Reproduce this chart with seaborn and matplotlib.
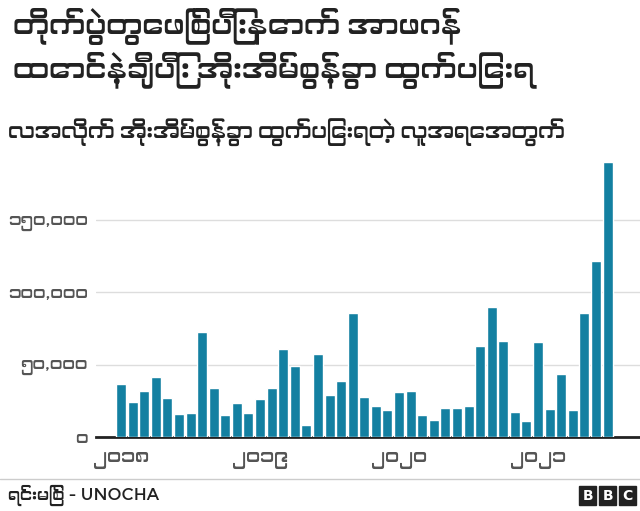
import matplotlib
matplotlib.use("Agg")
import matplotlib.pyplot as plt
from matplotlib import font_manager as fm
import seaborn as sns
import pandas as pd

months = list(range(43))
values = [36900, 24200, 31600, 41200, 27200, 16100, 16800, 72600, 33900, 15400, 23500, 16600,
          26300, 33600, 60800, 48800, 8100, 57100, 29000, 38900, 85700, 27400, 21400, 18700,
          31100, 31800, 15400, 11800, 20000, 20000, 21700, 62900, 89900, 66100, 17300, 10800,
          65400, 19600, 43800, 18400, 85500, 121400, 190300]
year_ticks = [0, 12, 24, 36]
year_labels = ["၂၀၁၈", "၂၀၁၉", "၂၀၂၀", "၂၀၂၁"]
y_ticks = [0, 50000, 100000, 150000]
y_labels = ["၀", "၅၀,၀၀၀", "၁၀၀,၀၀၀", "၁၅၀,၀၀၀"]
title = "တိုက်ပွဲတွေဖြစ်ပြီးနောက် အာဖဂန်\nထောင်နဲ့ချီပြီး အိုးအိမ်စွန့်ခွာ ထွက်ပြေးရ"
subtitle = "လအလိုက် အိုးအိမ်စွန့်ခွာ ထွက်ပြေးရတဲ့ လူအရေအတွက်"
source = "ရင်းမြစ် - UNOCHA"

sns.set_style("white")
names = sorted({f.name for f in fm.fontManager.ttflist
                if "myanmar" in f.name.lower() or "padauk" in f.name.lower() or "myanmar" in f.fname.lower()})
fams = names + ["DejaVu Sans"]
plt.rcParams["font.family"] = fams

df = pd.DataFrame({"m": months, "v": values})
fig = plt.figure(figsize=(6.4, 5.11), dpi=100)
ax = fig.add_axes([0.15, 0.145, 0.85, 0.552])
sns.barplot(data=df, x="m", y="v", color="#1380A1", saturation=1, width=0.86, ax=ax, zorder=3)
ax.set_xlim(-2.16, 44.8)
ax.set_ylim(0, 195000)
ax.set_yticks(y_ticks)
ax.set_yticklabels(y_labels, fontsize=12.5, color="#555555", fontweight="light")
ax.set_xticks(year_ticks)
ax.set_xticklabels(year_labels, fontsize=14, color="#555555", fontweight="light")
ax.grid(axis="y", color="#dddddd", lw=1, zorder=0)
for s in ["top", "right", "left"]:
    ax.spines[s].set_visible(False)
ax.spines["bottom"].set_color("#222222")
ax.spines["bottom"].set_linewidth(2)
ax.tick_params(axis="x", length=6, color="#333333", width=1, pad=4)
ax.tick_params(axis="y", length=0, pad=6)
ax.set_xlabel("")
ax.set_ylabel("")

fig.text(0.02, 0.985, title, fontsize=21, va="top", ha="left", color="#222222", linespacing=1.3)
fig.text(0.012, 0.74, subtitle, fontsize=15.5, va="center", ha="left", color="#222222")
fig.add_artist(plt.Line2D([0, 1], [0.062, 0.062], color="#cccccc", lw=1))
fig.text(0.012, 0.03, source, fontsize=12, va="center", ha="left", color="#222222")
for i, ch in enumerate("BBC"):
    x = 0.905 + i * 0.031
    fig.add_artist(plt.Rectangle((x, 0.012), 0.027, 0.036, color="#222222", transform=fig.transFigure))
    fig.text(x + 0.0135, 0.030, ch, fontsize=10, fontweight="bold", color="white",
             ha="center", va="center", family="DejaVu Sans")
fig.savefig("out.png", dpi=100)
